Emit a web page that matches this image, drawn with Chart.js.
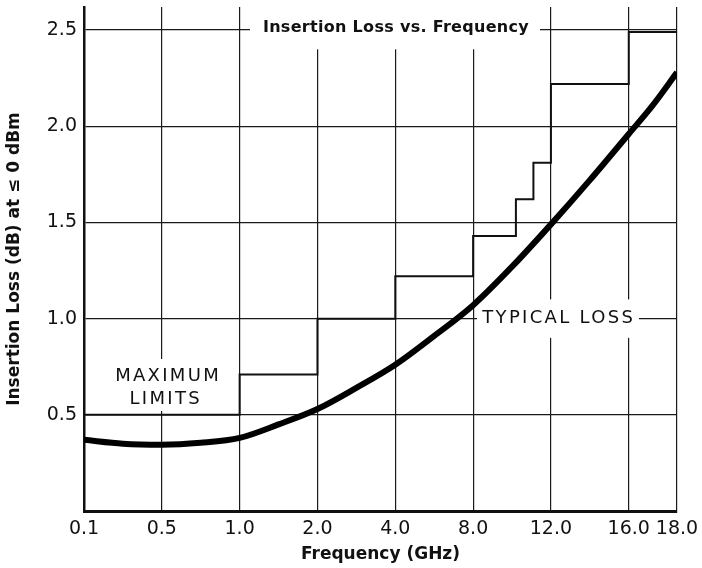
<!DOCTYPE html>
<html>
<head>
<meta charset="utf-8">
<script src="https://cdn.jsdelivr.net/npm/chart.js@4"></script>
<style>
  body { margin: 0; background: #fff; }
</style>
</head>
<body>
<canvas id="lossChart" width="702" height="568"></canvas>
<script>
// frequency axis: ticks are evenly spaced, not linear in GHz
const xTickLabels = ["0.1", "0.5", "1.0", "2.0", "4.0", "8.0", "12.0", "16.0", "18.0"];
const xTickFreqs = [0.1, 0.5, 1, 2, 4, 8, 12, 16, 18];
const xTickPos = [0, 1, 2, 3, 4, 5, 6, 7, 7.62];
const yTicks = [0, 0.5, 1.0, 1.5, 2.0, 2.5];

// maximum limits (step line), each value holds until the next frequency
const limitFreq = [0.1, 1, 2, 4, 8, 10.2, 11.1, 12, 16, 18];
const limitLoss = [0.5, 0.71, 1.0, 1.22, 1.43, 1.62, 1.81, 2.22, 2.49, 2.49];

// typical loss curve
const typFreq = [0.1, 0.3, 0.5, 0.75, 1, 1.5, 2, 3, 4, 6, 8, 10, 12, 14, 16, 17, 18];
const typLoss = [0.37, 0.35, 0.345, 0.355, 0.38, 0.45, 0.53, 0.64, 0.76, 0.91, 1.07, 1.27, 1.49, 1.72, 1.96, 2.11, 2.28];

function freqToPos(f) {
  for (let i = 0; i < xTickFreqs.length - 1; i++) {
    const a = xTickFreqs[i], b = xTickFreqs[i + 1];
    if (f <= b) {
      return xTickPos[i] + (f - a) / (b - a) * (xTickPos[i + 1] - xTickPos[i]);
    }
  }
  return xTickPos[xTickPos.length - 1];
}

const FONT = "'DejaVu Sans', sans-serif";

// white-backed labels sitting on the grid
const labelPlugin = {
  id: "labels",
  beforeDatasetsDraw(chart) {
    const { ctx, scales: { x, y } } = chart;
    ctx.save();
    ctx.fillStyle = "#fff";
    // title box over the 2.5 line
    ctx.fillRect(250, y.getPixelForValue(2.62), 290, y.getPixelForValue(2.4) - y.getPixelForValue(2.62));
    // MAXIMUM LIMITS box
    ctx.fillRect(x.getPixelForValue(0.3), y.getPixelForValue(0.79), 122, y.getPixelForValue(0.52) - y.getPixelForValue(0.79));
    // TYPICAL LOSS box
    ctx.fillRect(x.getPixelForValue(5.05), y.getPixelForValue(1.1), 162, y.getPixelForValue(0.9) - y.getPixelForValue(1.1));

    ctx.fillStyle = "#111";
    ctx.textAlign = "center";
    ctx.textBaseline = "middle";

    ctx.font = "bold 16px " + FONT;
    ctx.letterSpacing = "0.3px";
    ctx.fillText("Insertion Loss vs. Frequency", 396, y.getPixelForValue(2.5) - 2);

    ctx.font = "18px " + FONT;
    ctx.letterSpacing = "2.3px";
    ctx.fillText("MAXIMUM", x.getPixelForValue(1.08), y.getPixelForValue(0.7));
    ctx.fillText("LIMITS", x.getPixelForValue(1.05), y.getPixelForValue(0.58));
    ctx.fillText("TYPICAL LOSS", x.getPixelForValue(6.1), y.getPixelForValue(1.0));
    ctx.restore();
  }
};

window.addEventListener("DOMContentLoaded", () => {
  const ctx = document.getElementById("lossChart").getContext("2d");

  new Chart(ctx, {
    type: "line",
    data: {
      datasets: [
        {
          label: "Maximum Limits",
          data: limitFreq.map((f, i) => ({ x: freqToPos(f), y: limitLoss[i] })),
          stepped: true,
          borderColor: "#111",
          borderWidth: 2,
          pointRadius: 0,
          fill: false
        },
        {
          label: "Typical Loss",
          data: typFreq.map((f, i) => ({ x: freqToPos(f), y: typLoss[i] })),
          borderColor: "#000",
          borderWidth: 6,
          cubicInterpolationMode: "monotone",
          pointRadius: 0,
          fill: false
        }
      ]
    },
    options: {
      responsive: false,
      animation: false,
      layout: { padding: { top: 7, right: 25, left: 0, bottom: 0 } },
      plugins: {
        legend: { display: false },
        tooltip: { enabled: false }
      },
      scales: {
        x: {
          type: "linear",
          min: 0,
          max: xTickPos[xTickPos.length - 1],
          afterBuildTicks: (scale) => {
            scale.ticks = xTickPos.map(v => ({ value: v }));
          },
          afterFit: (scale) => {
            scale.height = 57;
            scale.paddingLeft = 0;
            scale.paddingRight = 0;
          },
          ticks: {
            color: "#111",
            font: { family: FONT, size: 19 },
            padding: 7,
            maxRotation: 0,
            autoSkip: false,
            callback: (v, i) => xTickLabels[i]
          },
          grid: { color: "#1a1a1a", lineWidth: 1.2, drawTicks: false },
          border: { display: true, color: "#111", width: 3 },
          title: {
            display: true,
            text: "Frequency (GHz)",
            color: "#111",
            font: { family: FONT, size: 17, weight: "bold" },
            padding: { top: 0, bottom: 3 }
          }
        },
        y: {
          min: 0,
          max: 2.62,
          afterBuildTicks: (scale) => {
            scale.ticks = yTicks.map(v => ({ value: v }));
          },
          afterFit: (scale) => {
            scale.width = 84;
            scale.paddingTop = 0;
            scale.paddingBottom = 0;
          },
          ticks: {
            color: "#111",
            font: { family: FONT, size: 19 },
            padding: 7,
            callback: (v) => v === 0 ? "" : v.toFixed(1)
          },
          grid: { color: "#1a1a1a", lineWidth: 1.2, drawTicks: false },
          border: { display: true, color: "#111", width: 2.5 },
          title: {
            display: true,
            text: "Insertion Loss (dB) at ≤ 0 dBm",
            color: "#111",
            font: { family: FONT, size: 17, weight: "bold" },
            padding: { top: 4, bottom: 0 }
          }
        }
      }
    },
    plugins: [labelPlugin]
  });
});
</script>
</body>
</html>
